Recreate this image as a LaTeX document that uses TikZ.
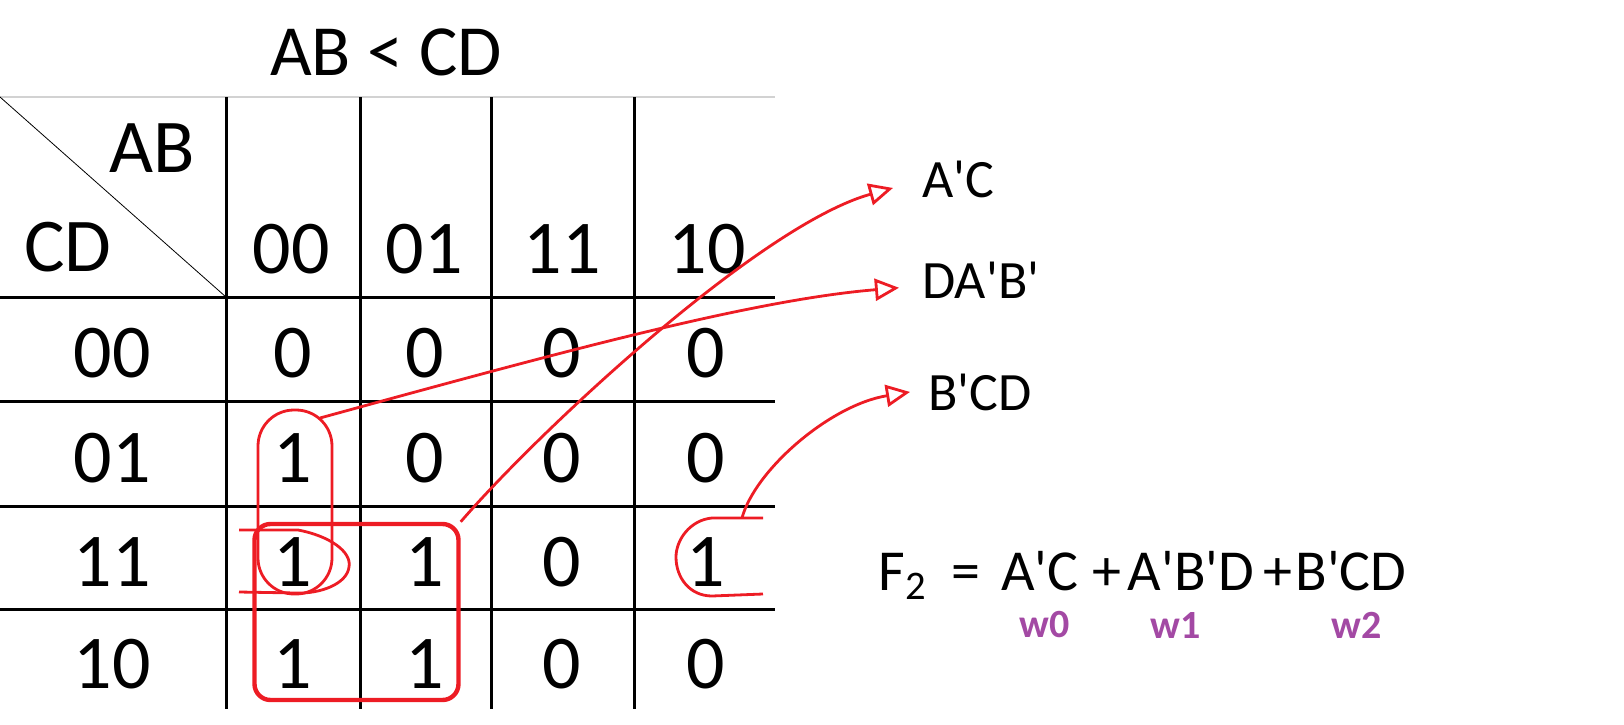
\documentclass[tikz,border=0pt]{standalone}
\usepackage{fontspec}
\setmainfont{Carlito}
\usetikzlibrary{arrows.meta}
\definecolor{penred}{RGB}{237,28,36}
\definecolor{penpurple}{RGB}{163,73,164}
\newcommand{\pr}{\textquotesingle}

\begin{document}
\begin{tikzpicture}[x=0.5pt, y=-0.5pt,
    cell/.style={anchor=base, inner sep=0pt, font=\fontsize{38}{40}\selectfont},
    hand/.style={anchor=base west, inner sep=0pt, font=\fontsize{27}{30}\selectfont},
    form/.style={anchor=base, inner sep=0pt, font=\fontsize{29}{32}\selectfont},
    wlbl/.style={anchor=base, inner sep=0pt, text=penpurple, font=\fontsize{20}{22}\selectfont\bfseries},
    grid/.style={line width=1.5pt},
    pen/.style={penred, line width=1.4pt},
    wire/.style={pen, -{Triangle[open, length=12pt, width=11pt, line width=1.4pt]}}]
    \useasboundingbox (0,0) rectangle (1624,724);

    % title and table frame
    \node[anchor=base, inner sep=0pt, font=\fontsize{36}{40}\selectfont] (title) at (386,75) {AB < CD};
    \draw[gray!35, line width=0.6pt] (0,97) -- (775,97);
    \draw[line width=0.4pt] (0,97) -- (226,297);
    \foreach \x in {226,360,491,634} \draw[grid] (\x,97) -- (\x,709);
    \foreach \y in {297,401,506,609} \draw[grid] (0,\y) -- (775,\y);

    % headers
    \node[cell] (ab) at (152,172) {AB};
    \node[cell] (cd) at (68,271) {CD};
    \foreach \lbl/\x [count=\i] in {00/291,01/424,11/562,10/707}
        \node[cell] (col\i) at (\x,273) {\lbl};
    \foreach \lbl/\y [count=\i] in {00/377,01/482,11/586,10/688}
        \node[cell] (row\i) at (112,\y) {\lbl};

    % cells
    \foreach \v/\x [count=\c] in {0/293,0/425,0/562,0/706} \node[cell] (m1\c) at (\x,377) {\v};
    \foreach \v/\x [count=\c] in {1/293,0/425,0/562,0/706} \node[cell] (m2\c) at (\x,482) {\v};
    \foreach \v/\x [count=\c] in {1/293,1/425,0/562,1/706} \node[cell] (m3\c) at (\x,586) {\v};
    \foreach \v/\x [count=\c] in {1/293,1/425,0/562,0/706} \node[cell] (m4\c) at (\x,688) {\v};

    % groups
    \node[draw=penred, line width=2.2pt, rounded corners=8pt, minimum width=102pt, minimum height=88pt] (grpAC) at (356.5,612) {};
    \node[draw=penred, line width=1.4pt, rounded corners=18pt, minimum width=37pt, minimum height=92pt] (grpABD) at (295,502) {};
    \draw[pen] (239,530) -- (298,530) .. controls (330,536) and (352,552) .. (349,567)
        .. controls (347,584) and (320,594) .. (296,593) -- (239,592);
    \draw[pen] (763,518) -- (712,518) .. controls (690,520) and (676,540) .. (676,557)
        .. controls (676,578) and (690,596) .. (712,596) -- (763,594);
    \coordinate (pillTop) at (320,418);
    \coordinate (wrapR) at (742,518);

    % terms
    \node[hand] (tAC) at (922,197) {A\pr C};
    \node[hand] (tABD) at (922,298) {DA\pr B\pr};
    \node[hand] (tBCD) at (928,410) {B\pr CD};

    \draw[wire] (grpAC.north east) .. controls (540,430) and (760,225) .. ([shift={(-29,9)}]tAC.west);
    \draw[wire] (pillTop) .. controls (550,355) and (750,300) .. ([shift={(-23,8)}]tABD.west);
    \draw[wire] (wrapR) .. controls (755,470) and (830,405) .. ([shift={(-18,0)}]tBCD.west);

    % result
    \node[form] (fF) at (903,590) {F\textsubscript{2}};
    \node[form] (fEq) at (966,590) {=};
    \node[form] (termAC) at (1040,590) {A\pr C};
    \node[form] (plusA) at (1107,590) {+};
    \node[form] (termABD) at (1191,590) {A\pr B\pr D};
    \node[form] (plusB) at (1278,590) {+};
    \node[form] (termBCD) at (1351,590) {B\pr CD};
    \node[wlbl] (w0) at (1045,637) {w0};
    \node[wlbl] (w1) at (1176,638) {w1};
    \node[wlbl] (w2) at (1357,638) {w2};

\end{tikzpicture}
\end{document}
